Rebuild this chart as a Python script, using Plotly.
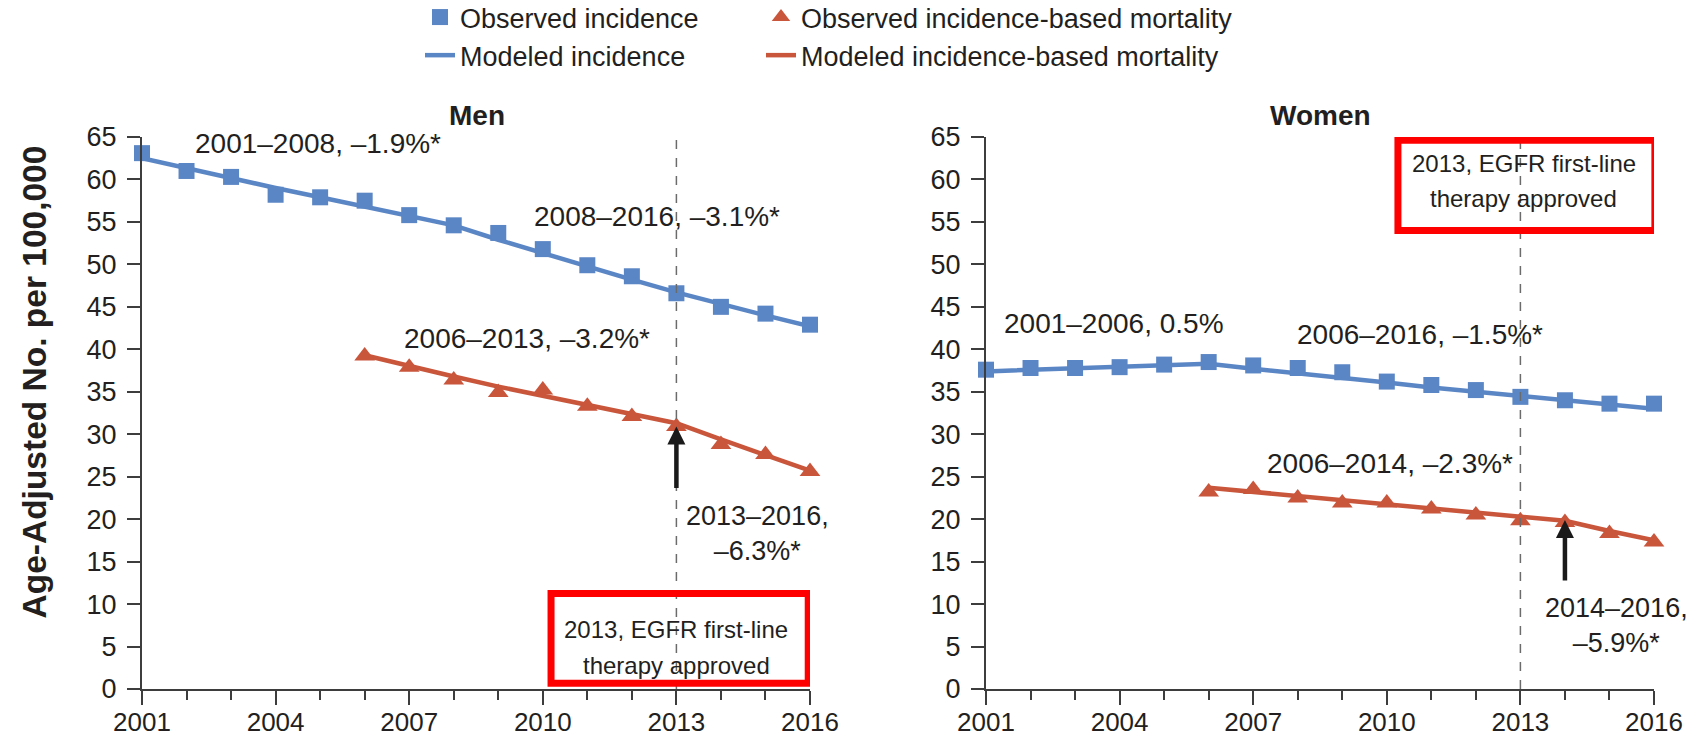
import plotly.graph_objects as go

# ---------------- data ----------------
years_inc = [2001, 2002, 2003, 2004, 2005, 2006, 2007, 2008,
             2009, 2010, 2011, 2012, 2013, 2014, 2015, 2016]
years_mort = [2006, 2007, 2008, 2009, 2010, 2011, 2012, 2013, 2014, 2015, 2016]

men_obs_inc = [63.1, 61.0, 60.3, 58.2, 57.9, 57.5, 55.8, 54.6,
               53.7, 51.8, 49.9, 48.6, 46.6, 45.0, 44.2, 42.9]
men_mod_inc = [62.5, 61.3, 60.1, 59.0, 57.9, 56.8, 55.7, 54.6,
               52.9, 51.3, 49.7, 48.2, 46.7, 45.3, 44.0, 42.7]
men_obs_mort = [39.2, 37.9, 36.4, 34.9, 35.2, 33.3, 32.1, 30.9, 28.8, 27.6, 25.6]
men_mod_mort = [39.3, 38.0, 36.8, 35.6, 34.5, 33.4, 32.3, 31.3, 29.4, 27.6, 25.7]

women_obs_inc = [37.6, 37.8, 37.8, 37.9, 38.2, 38.5, 38.1, 37.8,
                 37.3, 36.2, 35.8, 35.2, 34.4, 34.0, 33.6, 33.6]
women_mod_inc = [37.4, 37.6, 37.8, 38.0, 38.1, 38.3, 37.7, 37.2,
                 36.6, 36.1, 35.5, 35.0, 34.5, 34.0, 33.5, 33.0]
women_obs_mort = [23.2, 23.5, 22.5, 21.9, 21.9, 21.2, 20.5, 19.8, 19.6, 18.3, 17.3]
women_mod_mort = [23.7, 23.2, 22.7, 22.2, 21.7, 21.2, 20.7, 20.2, 19.8, 18.6, 17.5]

x_tick_years = [2001, 2004, 2007, 2010, 2013, 2016]
x_tick_labels = ["2001", "2004", "2007", "2010", "2013", "2016"]
y_tick_values = [0, 5, 10, 15, 20, 25, 30, 35, 40, 45, 50, 55, 60, 65]

approval_year = 2013
men_arrow_year, men_arrow_value = 2013, 30.9
women_arrow_year, women_arrow_value = 2014, 19.9

# ---------------- styles ----------------
BLUE = "#5b86c5"
RED = "#c9553b"
AXIS = "#3d3d3d"
TXT = "#231f20"
FONT = "Liberation Sans"

fig = go.Figure()


def add_panel(xa, ya, obs_inc, mod_inc, obs_mort, mod_mort, show):
    fig.add_trace(go.Scatter(
        x=years_inc, y=mod_inc, mode="lines", name="Modeled incidence",
        line=dict(color=BLUE, width=4.5), xaxis=xa, yaxis=ya,
        legend="legend", legendrank=2, showlegend=show, cliponaxis=False,
        hoverinfo="skip"))
    fig.add_trace(go.Scatter(
        x=years_mort, y=mod_mort, mode="lines",
        name="Modeled incidence-based mortality",
        line=dict(color=RED, width=4.5), xaxis=xa, yaxis=ya,
        legend="legend2", legendrank=2, showlegend=show, cliponaxis=False,
        hoverinfo="skip"))
    fig.add_trace(go.Scatter(
        x=years_inc, y=obs_inc, mode="markers", name="Observed incidence",
        marker=dict(symbol="square", size=16, color=BLUE), xaxis=xa, yaxis=ya,
        legend="legend", legendrank=1, showlegend=show, cliponaxis=False))
    fig.add_trace(go.Scatter(
        x=years_mort, y=obs_mort, mode="markers",
        name="Observed incidence-based mortality",
        marker=dict(symbol="triangle-up", size=18, color=RED), xaxis=xa, yaxis=ya,
        legend="legend2", legendrank=1, showlegend=show, cliponaxis=False))


add_panel("x", "y", men_obs_inc, men_mod_inc, men_obs_mort, men_mod_mort, True)
add_panel("x2", "y2", women_obs_inc, women_mod_inc, women_obs_mort, women_mod_mort, False)

xaxis_style = dict(
    range=[2001, 2016], showline=True, linecolor=AXIS, linewidth=2,
    ticks="outside", ticklen=14, tickwidth=2, tickcolor=AXIS,
    tickvals=x_tick_years, ticktext=x_tick_labels, ticklabelstandoff=-5,
    minor=dict(tickmode="linear", tick0=2001, dtick=1, ticks="outside",
               ticklen=9, tickwidth=2, tickcolor=AXIS, showgrid=False),
    showgrid=False, zeroline=False, automargin=False,
    tickfont=dict(family=FONT, size=26, color=TXT),
)
yaxis_style = dict(
    range=[0, 65], showline=True, linecolor=AXIS, linewidth=2,
    ticks="outside", ticklen=13, tickwidth=2, tickcolor=AXIS,
    tickvals=y_tick_values, showgrid=False, zeroline=False, automargin=False,
    ticklabelstandoff=5,
    tickfont=dict(family=FONT, size=27, color=TXT),
)

# page body margin is removed by the post script, so figure pixels = page pixels
W, H = 1702, 736
L, T = 142, 137
R = W - 1654
B = H - 689
PW, PH = W - L - R, H - T - B


def px(xp):
    return (xp - L) / PW


def py(yp):
    return (H - B - yp) / PH


fig.update_layout(
    width=W, height=H,
    margin=dict(l=L, r=R, t=T, b=B, pad=0, autoexpand=False),
    paper_bgcolor="white", plot_bgcolor="white",
    xaxis=dict(domain=[0, px(810)], anchor="y", **xaxis_style),
    xaxis2=dict(domain=[px(986), 1], anchor="y2", **xaxis_style),
    yaxis=dict(domain=[0, 1], anchor="x", **yaxis_style),
    yaxis2=dict(domain=[0, 1], anchor="x2", **yaxis_style),
    legend=dict(x=px(420), y=py(-7), xanchor="left", yanchor="top",
                font=dict(family=FONT, size=27, color=TXT),
                bgcolor="rgba(0,0,0,0)", tracegroupgap=0),
    legend2=dict(x=px(761), y=py(-7), xanchor="left", yanchor="top",
                 font=dict(family=FONT, size=27, color=TXT),
                 bgcolor="rgba(0,0,0,0)", tracegroupgap=0),
    hovermode=False,
)

shapes = []
for xr, yr in (("x", "y"), ("x2", "y2")):
    shapes.append(dict(type="line", xref=xr, yref=yr, x0=approval_year, x1=approval_year,
                       y0=0, y1=65.5, line=dict(color="#6b6b6b", width=1.5, dash="dash")))
# red boxes
shapes.append(dict(type="rect", xref="x", yref="y", x0=2010.185, x1=2015.96,
                   y0=0.68, y1=11.25, line=dict(color="#ff0000", width=7),
                   fillcolor="rgba(0,0,0,0)"))
shapes.append(dict(type="rect", xref="x2", yref="y2", x0=2010.25, x1=2016.02,
                   y0=53.99, y1=64.62, line=dict(color="#ff0000", width=7),
                   fillcolor="rgba(0,0,0,0)"))
fig.update_layout(shapes=shapes)

ann = []
tf = dict(family=FONT, size=28, color=TXT)
tf2 = dict(family=FONT, size=27, color=TXT)
bf = dict(family=FONT, size=24, color=TXT)


def text(xr, yr, x, y, s, xanchor="left", font=tf):
    ann.append(dict(xref=xr, yref=yr, x=x, y=y, text=s, showarrow=False,
                    xanchor=xanchor, yanchor="middle", align="center", font=font))


# Men
text("x", "y", 2002.145, 64.26, "2001–2008, –1.9%*")
text("x", "y", 2009.75, 55.62, "2008–2016, –3.1%*")
text("x", "y", 2006.83, 41.33, "2006–2013, –3.2%*")
text("x", "y", 2014.81, 18.33, "2013–2016,<br>–6.3%*", xanchor="center", font=tf2)
text("x", "y", 2013.0, 7.03, "2013, EGFR first-line", xanchor="center", font=bf)
text("x", "y", 2013.0, 2.71, "therapy approved", xanchor="center", font=bf)
# Women
text("x2", "y2", 2001.35, 43.06, "2001–2006, 0.5%")
text("x2", "y2", 2007.94, 41.69, "2006–2016, –1.5%*")
text("x2", "y2", 2007.27, 26.58, "2006–2014, –2.3%*")
text("x2", "y2", 2015.15, 7.44, "2014–2016,<br>–5.9%*", xanchor="center", font=tf2)
text("x2", "y2", 2013.07, 61.9, "2013, EGFR first-line", xanchor="center", font=bf)
text("x2", "y2", 2013.07, 57.78, "therapy approved", xanchor="center", font=bf)

# arrows
for xr, yr, xv, yv, ay in (("x", "y", men_arrow_year, men_arrow_value, 63),
                           ("x2", "y2", women_arrow_year, women_arrow_value, 62)):
    ann.append(dict(xref=xr, yref=yr, x=xv, y=yv, ax=0, ay=ay, text="",
                    showarrow=True, arrowhead=2, arrowsize=0.8, arrowwidth=4.5,
                    arrowcolor="#1a1a1a", standoff=0))

# panel titles
ann.append(dict(xref="paper", yref="paper", x=px(476.5), y=py(115), text="<b>Men</b>",
                showarrow=False, xanchor="center", yanchor="middle",
                font=dict(family=FONT, size=28, color=TXT)))
ann.append(dict(xref="paper", yref="paper", x=px(1320), y=py(115), text="<b>Women</b>",
                showarrow=False, xanchor="center", yanchor="middle",
                font=dict(family=FONT, size=28, color=TXT)))
# y-axis title
ann.append(dict(xref="paper", yref="paper", x=px(34), y=py(382.5),
                text="<b>Age-Adjusted No. per 100,000</b>", textangle=-90,
                showarrow=False, xanchor="center", yanchor="middle",
                font=dict(family=FONT, size=33.5, color=TXT)))

fig.update_layout(annotations=ann)

fig.write_html(
    "out.html",
    config={"displayModeBar": False},
    post_script="document.body.style.margin='0px';document.body.style.overflow='hidden';",
)
